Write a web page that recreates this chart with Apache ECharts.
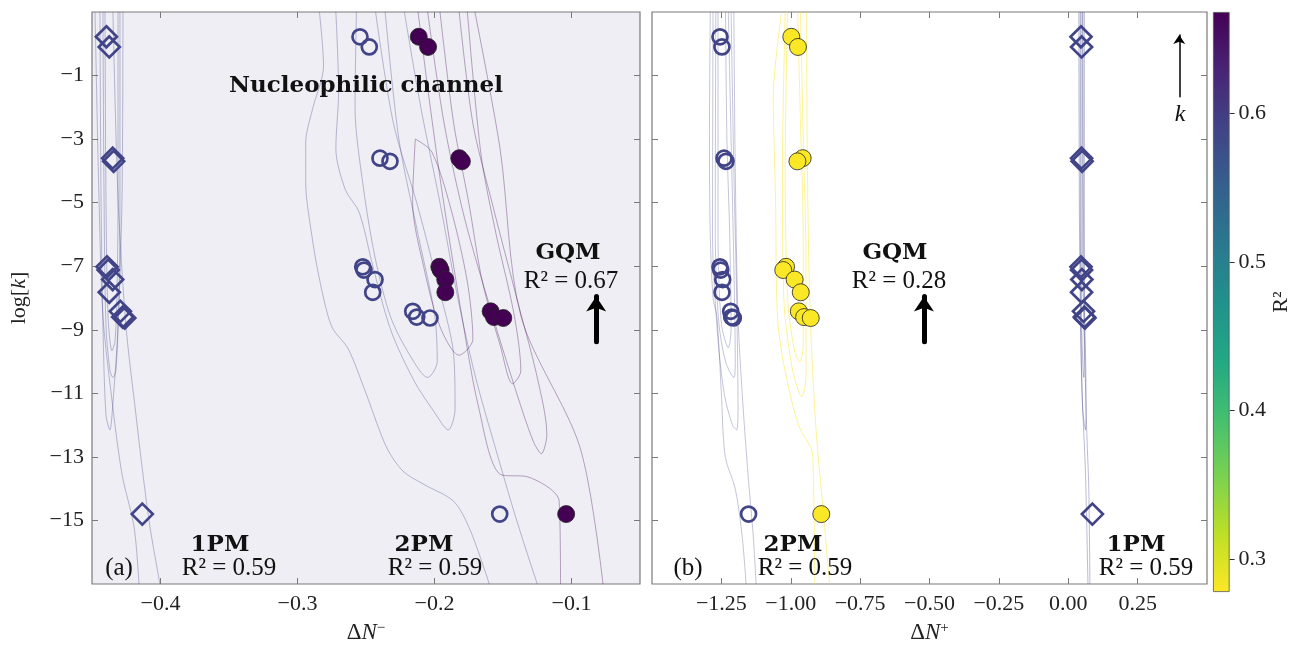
<!DOCTYPE html>
<html>
<head>
<meta charset="utf-8">
<title>GQM / PM fits</title>
<script src="https://cdn.jsdelivr.net/npm/echarts/dist/echarts.min.js"></script>
<style>
  html, body { margin: 0; padding: 0; background: #fff; }
  #chart { width: 1293px; height: 649px; }
</style>
</head>
<body>
<div id="chart"></div>
<script>
// log[k] of the compounds (same order in every series)
const logK = [0.22, -0.1, -3.6, -3.7, -7.02, -7.12, -7.42, -7.82, -8.42, -8.6, -8.63, -14.8];

// panel (a): ΔN−
const dNminus1PM = [-0.4395, -0.4374, -0.4349, -0.4342, -0.4390, -0.4382, -0.4349, -0.4374, -0.4293, -0.4276, -0.4261, -0.4133];
const dNminus2PM = [-0.2544, -0.2476, -0.2398, -0.2325, -0.2524, -0.2515, -0.2434, -0.2451, -0.2159, -0.2130, -0.2033, -0.1524];
const dNminusGQM = [-0.2115, -0.2047, -0.1819, -0.1800, -0.1965, -0.1955, -0.1921, -0.1921, -0.1590, -0.1566, -0.1498, -0.1039];

// panel (b): ΔN+
const dNplus2PM = [-1.255, -1.248, -1.2405, -1.2333, -1.255, -1.2524, -1.2452, -1.2477, -1.2164, -1.2128, -1.207, -1.152];
const dNplusGQM = [-0.998, -0.974, -0.957, -0.976, -1.017, -1.027, -0.986, -0.964, -0.971, -0.952, -0.928, -0.890];
const dNplus1PM = [0.046, 0.048, 0.048, 0.050, 0.046, 0.048, 0.049, 0.048, 0.055, 0.058, 0.060, 0.087];

// R² of each model
const r2Left1PM = 0.59, r2Left2PM = 0.59, r2LeftGQM = 0.67;
const r2Right1PM = 0.59, r2Right2PM = 0.59, r2RightGQM = 0.28;
const r2Min = 0.278, r2Max = 0.668;

// tick values
const ticksLogK = [-15, -13, -11, -9, -7, -5, -3, -1];
const ticksMinus = [-0.4, -0.3, -0.2, -0.1];
const ticksPlus = [-1.25, -1.0, -0.75, -0.5, -0.25, 0.0, 0.25];
const ticksR2 = [0.3, 0.4, 0.5, 0.6];

// contour lines, [ΔN, log k]
const contourL1PM = [
  [[-0.4478, 1], [-0.4449, -4.84], [-0.442, -8.57], [-0.4361, -10.97], [-0.4281, -13.55], [-0.4193, -15.2], [-0.4157, -17]],
  [[-0.4347, 1], [-0.431, -4.84], [-0.4252, -8.88], [-0.4179, -11.68], [-0.4128, -13.55], [-0.4077, -15.2], [-0.4004, -17]],
  [[-0.4442, 1], [-0.4434, -4.84], [-0.442, -8.88], [-0.4398, -11.68], [-0.4369, -12.15], [-0.4354, -11.68], [-0.431, -8.88], [-0.4281, -4.84], [-0.4274, 1]],
  [[-0.442, 1], [-0.4412, -4.84], [-0.4398, -8.88], [-0.4369, -10.28], [-0.4347, -10.5], [-0.4325, -10.28], [-0.4303, -7.95], [-0.4296, -4.84], [-0.4296, 1]],
  [[-0.4405, 1], [-0.4398, -4.84], [-0.4383, -8.57], [-0.4354, -9.66], [-0.4332, -9.35], [-0.4318, -7.95], [-0.431, -4.84], [-0.431, 1]]
];
const contourL2PM = [
  [[-0.284, 1], [-0.281, -0.7], [-0.289, -2.05], [-0.294, -3.1], [-0.294, -4.4], [-0.290, -5.9], [-0.284, -7.4], [-0.275, -8.9], [-0.263, -9.6], [-0.250, -11.0], [-0.235, -12.7], [-0.223, -13.45], [-0.208, -13.86], [-0.186, -14.4], [-0.174, -15.3], [-0.160, -17]],
  [[-0.272, 1], [-0.270, -1.5], [-0.272, -3.3], [-0.265, -4.6], [-0.255, -5.3], [-0.245, -7.0], [-0.232, -9.0], [-0.215, -10.6], [-0.200, -11.6], [-0.190, -12.15], [-0.185, -11.5], [-0.186, -9.8], [-0.198, -7.5], [-0.213, -5.0], [-0.230, -2.5], [-0.243, 1]],
  [[-0.257, 1], [-0.258, -2], [-0.252, -4.5], [-0.243, -6.8], [-0.232, -8.6], [-0.218, -9.8], [-0.205, -10.5], [-0.198, -10.0], [-0.200, -8.5], [-0.212, -6.0], [-0.226, -3.0], [-0.236, 1]],
  [[-0.222, 1], [-0.21, -2], [-0.196, -5], [-0.183, -8.0], [-0.170, -10.5], [-0.155, -12.8], [-0.14, -15], [-0.125, -17]]
];
const contourLGQM = [
  [[-0.212, 1], [-0.204, -1.7], [-0.194, -4.8], [-0.180, -8.57], [-0.168, -11.4], [-0.152, -13.55], [-0.131, -13.64], [-0.109, -14.4], [-0.108, -17]],
  [[-0.205, 1], [-0.193, -2.5], [-0.178, -5.5], [-0.158, -8.5], [-0.140, -11], [-0.128, -12.5], [-0.122, -12.9], [-0.118, -12.3], [-0.125, -10.5], [-0.140, -8], [-0.158, -5], [-0.172, -2.5], [-0.182, 1]],
  [[-0.196, 1], [-0.186, -2.5], [-0.175, -5], [-0.165, -7.5], [-0.152, -9.5], [-0.143, -10.7], [-0.137, -10.3], [-0.142, -8.5], [-0.155, -6], [-0.166, -3.5], [-0.176, 1]],
  [[-0.1705, 1], [-0.1522, -3.29], [-0.1369, -8.57], [-0.0938, -12.7], [-0.077, -17]],
  [[-0.214, -3.0], [-0.216, -5], [-0.208, -7], [-0.196, -8.9], [-0.182, -9.8], [-0.172, -9.3], [-0.176, -7.5], [-0.188, -5.2], [-0.202, -3.4], [-0.214, -3.0]]
];
const contourR2PM = [
  [[-1.29, 1], [-1.293, -3], [-1.29, -6], [-1.28, -8], [-1.266, -8.6], [-1.25, -11], [-1.236, -13.0], [-1.2, -14.0], [-1.175, -15.5], [-1.161, -17]],
  [[-1.205, 1], [-1.2, -4], [-1.19, -8.57], [-1.175, -11], [-1.154, -13.55], [-1.135, -15.5], [-1.125, -17]],
  [[-1.28, 1], [-1.282, -6], [-1.265, -9], [-1.24, -11], [-1.21, -12], [-1.195, -12.15], [-1.19, -11.5], [-1.195, -8], [-1.205, -4], [-1.215, 1]],
  [[-1.27, 1], [-1.272, -6], [-1.26, -8.7], [-1.235, -10], [-1.205, -10.5], [-1.2, -10], [-1.205, -7], [-1.215, -3], [-1.225, 1]],
  [[-1.262, 1], [-1.262, -6], [-1.25, -8.8], [-1.225, -9.56], [-1.215, -9], [-1.22, -6], [-1.23, -3], [-1.235, 1]]
];
const contourRGQM = [
  [[-1.033, 1], [-1.063, -1.7], [-1.055, -4.8], [-1.048, -8.57], [-1.025, -10.1], [-0.972, -12.0], [-0.928, -12.7], [-0.92, -13.0], [-0.913, -17]],
  [[-0.943, 1], [-0.94, -4], [-0.93, -8.5], [-0.91, -12], [-0.88, -15], [-0.86, -17]],
  [[-1.02, 1], [-1.03, -4], [-1.025, -8], [-0.995, -10.2], [-0.96, -11.1], [-0.945, -10.5], [-0.945, -7], [-0.955, -3], [-0.965, 1]],
  [[-1.012, 1], [-1.02, -4], [-1.01, -8.2], [-0.985, -9.7], [-0.968, -10], [-0.955, -9.5], [-0.955, -6], [-0.965, -2.5], [-0.975, 1]]
];
const contourR1PM = [
  [[0.038, 1], [0.040, -5], [0.044, -8.6], [0.05, -11], [0.062, -13.5], [0.071, -17]],
  [[0.058, 1], [0.058, -5], [0.058, -8.6], [0.066, -12], [0.074, -14], [0.078, -17]],
  [[0.043, 1], [0.045, -8.6], [0.052, -11.5], [0.062, -12.15], [0.064, -11], [0.056, -7], [0.053, 1]],
  [[0.046, 1], [0.048, -8.6], [0.053, -10.2], [0.056, -10.5], [0.058, -9.8], [0.052, -7], [0.051, 1]]
];

// viridis, reversed on the colour bar (high R² = dark)
const viridisStops = ['#440154', '#482475', '#414487', '#355f8d', '#2a788e', '#21918c', '#22a884', '#44bf70', '#7ad151', '#bddf26', '#fde725'];

function hexRgb(h) {
  return [parseInt(h.slice(1, 3), 16), parseInt(h.slice(3, 5), 16), parseInt(h.slice(5, 7), 16)];
}
function viridis(t) {
  t = Math.max(0, Math.min(1, t));
  const p = t * (viridisStops.length - 1);
  const i = Math.min(Math.floor(p), viridisStops.length - 2);
  const f = p - i;
  const a = hexRgb(viridisStops[i]), b = hexRgb(viridisStops[i + 1]);
  return a.map((v, k) => Math.round(v + (b[k] - v) * f));
}
function r2Color(v, alpha) {
  const c = viridis((r2Max - v) / (r2Max - r2Min));
  return 'rgba(' + c[0] + ',' + c[1] + ',' + c[2] + ',' + (alpha == null ? 1 : alpha) + ')';
}

const serif = 'Liberation Serif';
const boldFont = 'bold 23px "DejaVu Serif"';
const regFont = '25px "Liberation Serif"';
const frameColor = '#7a7a7a';

function contourSeries(lines, color, xi, yi) {
  return lines.map(function (d) {
    return {
      type: 'line', xAxisIndex: xi, yAxisIndex: yi, data: d,
      symbol: 'none', smooth: 0.3, silent: true, z: 1,
      lineStyle: { color: color, width: 0.9 }
    };
  });
}
function pointSeries(xs, kind, color, xi, yi) {
  const s = {
    type: 'scatter', xAxisIndex: xi, yAxisIndex: yi, silent: true, z: 3,
    data: xs.map(function (x, i) { return [x, logK[i]]; })
  };
  if (kind === 'diamond') {
    s.symbol = 'diamond'; s.symbolSize = 21;
    s.itemStyle = { color: 'rgba(0,0,0,0)', borderColor: color, borderWidth: 2.7, opacity: 1 };
  } else if (kind === 'open') {
    s.symbol = 'circle'; s.symbolSize = 15;
    s.itemStyle = { color: 'rgba(0,0,0,0)', borderColor: color, borderWidth: 2.7, opacity: 1 };
  } else {
    s.symbol = 'circle'; s.symbolSize = 17;
    s.itemStyle = { color: color, borderColor: '#222', borderWidth: 0.8, opacity: 1 };
  }
  return s;
}
function arrow(x, y0, y1, width, head) {
  return {
    silent: true, symbol: ['none', 'arrow'], symbolSize: head,
    label: { show: false },
    lineStyle: { color: '#000', width: width, type: 'solid', cap: 'round' },
    data: [[{ coord: [x, y0] }, { coord: [x, y1] }]]
  };
}

const tickStyle = { show: true, inside: true, length: 6, lineStyle: { color: frameColor, width: 1 } };
const labelStyle = { fontFamily: serif, fontSize: 22, color: '#222' };
const noLine = { show: false, onZero: false };

function xAx(grid, min, max, ticks, fmt, top, name) {
  const a = {
    type: 'value', gridIndex: grid, min: min, max: max, position: top ? 'top' : 'bottom',
    axisLine: noLine, splitLine: { show: false },
    axisTick: Object.assign({ customValues: ticks }, tickStyle),
    axisLabel: Object.assign({ show: !top, margin: 9, customValues: ticks, formatter: fmt }, labelStyle)
  };
  if (name) {
    a.name = name; a.nameLocation = 'middle'; a.nameGap = 37;
    a.nameTextStyle = {
      fontFamily: serif, fontSize: 23, color: '#222',
      rich: {
        i: { fontFamily: serif, fontSize: 23, fontStyle: 'italic', color: '#222' },
        s: { fontFamily: serif, fontSize: 15, verticalAlign: 'top', color: '#222' }
      }
    };
  }
  return a;
}
function yAx(grid, right, showLabel, name) {
  const a = {
    type: 'value', gridIndex: grid, min: -17, max: 1, position: right ? 'right' : 'left',
    axisLine: noLine, splitLine: { show: false },
    axisTick: Object.assign({ customValues: ticksLogK }, tickStyle),
    axisLabel: Object.assign({ show: showLabel, margin: 8, customValues: ticksLogK,
      formatter: function (v) { return v.toFixed(0).replace('-', '\u2212'); } }, labelStyle)
  };
  if (name) {
    a.name = name; a.nameLocation = 'middle'; a.nameGap = 62; a.nameRotate = 90;
    a.nameTextStyle = {
      fontFamily: serif, fontSize: 22, color: '#222',
      rich: { i: { fontFamily: serif, fontSize: 22, fontStyle: 'italic', color: '#222' } }
    };
  }
  return a;
}
const fmtMinus = function (v) { return v.toFixed(1).replace('-', '\u2212'); };
const fmtPlus = function (v) { return v.toFixed(2).replace('-', '\u2212'); };

const series = []
  .concat(contourSeries(contourL1PM, r2Color(r2Left1PM, 0.38), 0, 0))
  .concat(contourSeries(contourL2PM, r2Color(r2Left2PM, 0.38), 0, 0))
  .concat(contourSeries(contourLGQM, r2Color(r2LeftGQM, 0.38), 0, 0))
  .concat(contourSeries(contourR2PM, r2Color(r2Right2PM, 0.35), 2, 2))
  .concat(contourSeries(contourRGQM, r2Color(r2RightGQM, 0.55), 2, 2))
  .concat(contourSeries(contourR1PM, r2Color(r2Right1PM, 0.4), 2, 2));

series.push(pointSeries(dNminus1PM, 'diamond', r2Color(r2Left1PM), 0, 0));
series.push(pointSeries(dNminus2PM, 'open', r2Color(r2Left2PM), 0, 0));
const gqmLeft = pointSeries(dNminusGQM, 'filled', r2Color(r2LeftGQM), 0, 0);
gqmLeft.markLine = arrow(-0.082, -9.38, -7.95, 5, 15);
series.push(gqmLeft);

series.push(pointSeries(dNplus2PM, 'open', r2Color(r2Right2PM), 2, 2));
series.push(pointSeries(dNplus1PM, 'diamond', r2Color(r2Right1PM), 2, 2));
const gqmRight = pointSeries(dNplusGQM, 'filled', r2Color(r2RightGQM), 2, 2);
gqmRight.markLine = arrow(-0.52, -9.38, -7.95, 5, 15);
series.push(gqmRight);

// the "k" direction arrow in panel (b)
series.push({
  type: 'line', xAxisIndex: 2, yAxisIndex: 2, data: [], silent: true,
  markLine: arrow(0.40, -1.67, 0.28, 1.5, 9)
});

// colour bar as two stacked bars: an invisible base up to r2Min and the gradient above it
const cbStops = viridisStops.map(function (c, i) { return { offset: i / (viridisStops.length - 1), color: c }; });
series.push({
  type: 'bar', xAxisIndex: 4, yAxisIndex: 4, stack: 'cb', barWidth: '100%', silent: true,
  data: [r2Min], itemStyle: { color: 'rgba(0,0,0,0)' }
});
series.push({
  type: 'bar', xAxisIndex: 4, yAxisIndex: 4, stack: 'cb', barWidth: '100%', silent: true,
  data: [r2Max - r2Min],
  itemStyle: { color: new echarts.graphic.LinearGradient(0, 0, 0, 1, cbStops), borderColor: '#555', borderWidth: 0.8 }
});

function txt(x, y, text, font) {
  return { type: 'text', x: x, y: y, silent: true, z: 10,
    style: { text: text, font: font, fill: '#111', align: 'center', verticalAlign: 'middle' } };
}

const chart = echarts.init(document.getElementById('chart'), null, { renderer: 'canvas' });
chart.setOption({
  animation: false,
  backgroundColor: '#fff',
  grid: [
    { left: 92, top: 12, width: 548, height: 580, show: true, backgroundColor: '#eeeef4', borderColor: frameColor, borderWidth: 1.2 },
    { left: 652, top: 12, width: 555, height: 580, show: true, backgroundColor: '#fff', borderColor: frameColor, borderWidth: 1.2 },
    { left: 1213, top: 12, width: 30, height: 580, show: false }
  ],
  xAxis: [
    xAx(0, -0.45, -0.05, ticksMinus, fmtMinus, false, '\u0394{i|N}{s|\u2212}'),
    xAx(0, -0.45, -0.05, ticksMinus, fmtMinus, true),
    xAx(1, -1.5, 0.5, ticksPlus, fmtPlus, false, '\u0394{i|N}{s|+}'),
    xAx(1, -1.5, 0.5, ticksPlus, fmtPlus, true),
    { type: 'category', gridIndex: 2, data: ['R2'], show: false, boundaryGap: true }
  ],
  yAxis: [
    yAx(0, false, true, 'log[{i|k}]'),
    yAx(0, true, false),
    yAx(1, false, false),
    yAx(1, true, false),
    {
      type: 'value', gridIndex: 2, min: r2Min, max: r2Max, position: 'right',
      axisLine: noLine, splitLine: { show: false },
      axisTick: { show: true, inside: false, length: 5, customValues: ticksR2, lineStyle: { color: '#333' } },
      axisLabel: Object.assign({ margin: 9, customValues: ticksR2, formatter: function (v) { return v.toFixed(1); } }, labelStyle),
      name: 'R\u00b2', nameLocation: 'middle', nameGap: 36, nameRotate: 90,
      nameTextStyle: { fontFamily: serif, fontSize: 22, color: '#222' }
    }
  ],
  series: series,
  graphic: [
    txt(366, 86, 'Nucleophilic channel', boldFont),
    txt(568, 253, 'GQM', boldFont),
    txt(571, 281, 'R\u00b2 = 0.67', regFont),
    txt(895, 253, 'GQM', boldFont),
    txt(899, 281, 'R\u00b2 = 0.28', regFont),
    txt(220, 545, '1PM', boldFont),
    txt(229, 568, 'R\u00b2 = 0.59', regFont),
    txt(424, 545, '2PM', boldFont),
    txt(435, 568, 'R\u00b2 = 0.59', regFont),
    txt(119, 568, '(a)', regFont),
    txt(793, 545, '2PM', boldFont),
    txt(805, 568, 'R\u00b2 = 0.59', regFont),
    txt(1136, 545, '1PM', boldFont),
    txt(1146, 568, 'R\u00b2 = 0.59', regFont),
    txt(688, 568, '(b)', regFont),
    txt(1180, 115, 'k', 'italic 24px "Liberation Serif"')
  ]
});
</script>
</body>
</html>
